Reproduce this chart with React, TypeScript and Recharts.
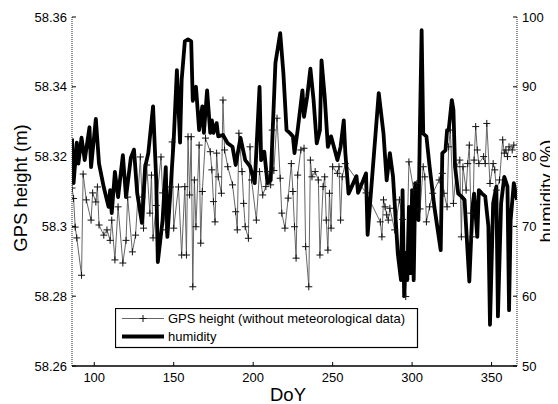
import React from 'react';
import { LineChart, Line, XAxis, YAxis, Legend } from 'recharts';

const dayTicks = [100, 150, 200, 250, 300, 350];
const heightTicks = [58.26, 58.28, 58.3, 58.32, 58.34, 58.36];
const humidityTicks = [50, 60, 70, 80, 90, 100];

const gpsLabel = 'GPS height (without meteorological data)';
const humidityLabel = 'humidity';

// [DoY, GPS height (m)]
const gpsSeries: [number, number][] = [
  [86, 58.311], [87, 58.308], [88, 58.2998], [89, 58.2967], [92, 58.286], [93, 58.315],
  [95, 58.3076], [98, 58.3018], [99, 58.3096], [101, 58.307], [102, 58.3113], [103, 58.3004],
  [106, 58.2975], [108, 58.299], [110, 58.296], [111, 58.3018], [113, 58.2904], [115, 58.3056],
  [118, 58.2895], [120, 58.296], [121, 58.3084], [124, 58.2927], [126, 58.2975], [129, 58.3199],
  [130, 58.3084], [131, 58.2995], [133, 58.3176], [135, 58.3038], [136, 58.3147], [137, 58.2967],
  [139, 58.306], [142, 58.3199], [143, 58.3096], [145, 58.299], [148, 58.3113], [149, 58.3242],
  [150, 58.2995], [153, 58.3113], [155, 58.2918], [157, 58.3114], [158, 58.2918], [159, 58.3257],
  [160, 58.309], [161, 58.3257], [162, 58.2827], [163, 58.3133], [164, 58.2999], [166, 58.3233],
  [167, 58.2952], [168, 58.31], [170, 58.3253], [173, 58.3214], [174, 58.3162], [175, 58.3071],
  [176, 58.3013], [177, 58.321], [178, 58.3142], [180, 58.3095], [181, 58.3362], [182, 58.3219],
  [184, 58.3171], [187, 58.3119], [189, 58.3042], [190, 58.299], [191, 58.3267], [193, 58.3157],
  [194, 58.3066], [195, 58.2999], [197, 58.2966], [198, 58.3228], [199, 58.3133], [202, 58.3018],
  [204, 58.3157], [206, 58.309], [208, 58.3114], [209, 58.3157], [211, 58.3119], [212, 58.3276],
  [213, 58.316], [215, 58.331], [217, 58.3138], [218, 58.3038], [220, 58.2995], [222, 58.3081],
  [224, 58.318], [225, 58.31], [226, 58.2999], [227, 58.2909], [228, 58.3147], [230, 58.3219],
  [232, 58.3224], [233, 58.2942], [235, 58.2827], [236, 58.319], [237, 58.3142], [239, 58.3157],
  [241, 58.3133], [242, 58.2918], [244, 58.3114], [245, 58.3142], [246, 58.3018], [247, 58.2932],
  [248, 58.3095], [249, 58.2995], [250, 58.3171], [253, 58.3152], [254, 58.3171], [255, 58.3018],
  [256, 58.3142], [258, 58.318], [271, 58.3096], [280, 58.3013], [281, 58.297], [282, 58.3076],
  [283, 58.3056], [284, 58.3033], [285, 58.3018], [286, 58.3052], [289, 58.299], [292, 58.3076],
  [294, 58.302], [296, 58.2799], [298, 58.3185], [301, 58.3104], [303, 58.3123], [305, 58.305],
  [307, 58.3171], [308, 58.3142], [309, 58.3013], [311, 58.3056], [313, 58.3095], [317, 58.3133],
  [319, 58.3152], [320, 58.3095], [322, 58.3056], [323, 58.3228], [324, 58.3276], [326, 58.3066],
  [328, 58.3171], [330, 58.319], [331, 58.297], [332, 58.3171], [334, 58.3104], [335, 58.318],
  [336, 58.3233], [337, 58.3038], [338, 58.297], [339, 58.319], [340, 58.3286], [341, 58.3219],
  [342, 58.318], [345, 58.32], [346, 58.318], [347, 58.3295], [349, 58.3123], [351, 58.318],
  [352, 58.3162], [353, 58.3104], [355, 58.3133], [357, 58.3248], [358, 58.321], [359, 58.3219],
  [360, 58.32], [361, 58.3228], [363, 58.3219], [364, 58.3233],
];

// [DoY, humidity (%)]
const humiditySeries: [number, number][] = [
  [86, 82.6], [87, 76.2], [89, 82], [90, 79], [92, 82.7], [94, 79.5], [97, 84.2], [98, 78.5],
  [101, 85.4], [103, 79], [106, 75.6], [109, 72.8], [110, 75.2], [111, 71.9], [113, 77.8],
  [115, 74.2], [118, 80.2], [120, 74.2], [123, 79.8], [125, 81], [127, 74.8], [130, 70.5],
  [132, 78.5], [134, 80.5], [137, 87.2], [139, 76.6], [140, 64.9], [143, 70.9], [145, 78.5],
  [146, 68.5], [148, 75.2], [150, 82.4], [152, 92.4], [154, 82], [155, 91], [157, 96.5],
  [159, 96.8], [161, 96.5], [162, 88], [164, 90], [166, 83.8], [168, 87.2], [169, 83.4],
  [171, 89.5], [173, 83.4], [174, 85.2], [175, 83.4], [177, 84.8], [178, 82.9], [181, 83.1],
  [184, 81.9], [187, 81.4], [189, 78.8], [192, 82.7], [195, 79.5], [198, 78.6], [201, 76.2],
  [204, 90], [205, 79.5], [207, 80.7], [209, 76.2], [211, 76.6], [214, 93.4], [217, 97.7],
  [219, 92], [221, 83.8], [223, 83.4], [225, 82.9], [226, 80.5], [228, 83.8], [231, 89.5],
  [232, 85.7], [234, 88.6], [236, 92.6], [238, 88.1], [240, 81.9], [242, 83.8], [243, 93.8],
  [245, 88.6], [247, 81.4], [249, 82.9], [253, 79.5], [255, 81.4], [257, 85.2], [258, 80.5],
  [260, 74.7], [265, 77.2], [266, 74.8], [271, 77.6], [272, 68.8], [279, 89.1], [282, 83.3],
  [284, 76.6], [286, 80.5], [288, 77.1], [291, 66.1], [293, 62.3], [294, 75.2], [295, 60],
  [296, 66.2], [297, 62.3], [298, 72.8], [299, 63.3], [300, 75.2], [301, 62.3], [302, 76.2],
  [304, 70.9], [305, 85.2], [306, 98.1], [307, 83.3], [309, 82.9], [311, 78.6], [314, 72.8],
  [318, 66.6], [319, 80.5], [321, 80.9], [322, 83.8], [323, 83.8], [325, 88.1], [326, 86.7],
  [327, 78.6], [329, 74.7], [331, 74.3], [333, 73.8], [336, 62.1], [338, 72.8], [339, 74.7],
  [341, 68.5], [342, 75.2], [344, 74.7], [346, 74.3], [348, 70], [349, 55.9], [351, 73.3],
  [353, 75.7], [354, 57.1], [356, 73.3], [358, 77.1], [360, 75.7], [361, 58], [362, 70.9],
  [364, 76.2], [366, 73.8],
];

const gpsMap = new Map(gpsSeries.map(([d, v]) => [d, v]));
const humMap = new Map(humiditySeries.map(([d, v]) => [d, v]));
const allDays = Array.from(new Set([...gpsSeries.map((p) => p[0]), ...humiditySeries.map((p) => p[0])])).sort(
  (a, b) => a - b
);
const chartData = allDays.map((d) => ({
  day: d,
  gps: gpsMap.has(d) ? gpsMap.get(d) : null,
  humidity: humMap.has(d) ? humMap.get(d) : null,
}));

const FONT = '"Liberation Sans", Arial, Helvetica, sans-serif';
const TICK_FS = 13;
const TITLE_FS = 18.5;

const LeftTick = (p: any) => (
  <g>
    <line x1={p.x} y1={p.y} x2={p.x + 4} y2={p.y} stroke="#000" strokeWidth={1} />
    <text x={p.x - 5} y={p.y} dy="0.36em" textAnchor="end" fontSize={TICK_FS} fontFamily={FONT} fill="#000">
      {String(p.payload.value)}
    </text>
  </g>
);

const RightTick = (p: any) => (
  <g>
    <line x1={p.x} y1={p.y} x2={p.x - 4} y2={p.y} stroke="#000" strokeWidth={1} />
    <text x={p.x + 5} y={p.y} dy="0.36em" textAnchor="start" fontSize={TICK_FS} fontFamily={FONT} fill="#000">
      {String(p.payload.value)}
    </text>
  </g>
);

const BottomTick = (p: any) => (
  <g>
    <line x1={p.x} y1={p.y} x2={p.x} y2={p.y - 4} stroke="#000" strokeWidth={1} />
    <text x={p.x} y={p.y + 16} textAnchor="middle" fontSize={TICK_FS} fontFamily={FONT} fill="#000">
      {String(p.payload.value)}
    </text>
  </g>
);

const TopTick = (p: any) => (
  <g>
    <line x1={p.x} y1={p.y} x2={p.x} y2={p.y + 4} stroke="#000" strokeWidth={1} />
  </g>
);

const PlusDot = (props: any) => {
  const { cx, cy, index } = props;
  if (cx == null || cy == null || Number.isNaN(cx) || Number.isNaN(cy)) return <g key={`pd${index}`} />;
  const s = 3.5;
  return (
    <path
      key={`pd${index}`}
      d={`M${cx - s},${cy}H${cx + s}M${cx},${cy - s}V${cy + s}`}
      stroke="#111"
      strokeWidth={1}
      fill="none"
    />
  );
};

const LegendBox = () => (
  <svg width={304} height={41} style={{ display: 'block' }}>
    <rect x={0.5} y={0.5} width={302} height={39} fill="#fff" stroke="#000" strokeWidth={1.2} />
    <line x1={7} y1={10.5} x2={49} y2={10.5} stroke="#555" strokeWidth={0.9} />
    <path d="M24.5,10.5H31.5M28,7V14" stroke="#111" strokeWidth={1} />
    <text x={53} y={14.8} fontSize={13} fontFamily={FONT} fill="#000">
      {gpsLabel}
    </text>
    <line x1={7} y1={28.5} x2={49} y2={28.5} stroke="#000" strokeWidth={3.8} />
    <text x={53} y={33} fontSize={13} fontFamily={FONT} fill="#000">
      {humidityLabel}
    </text>
  </svg>
);

export default function App() {
  return (
    <LineChart width={550} height={396} data={chartData} margin={{ top: 9, right: 0, bottom: 0, left: 0 }}>
      <XAxis
        dataKey="day"
        type="number"
        domain={[86, 366]}
        ticks={dayTicks}
        allowDataOverflow
        height={38}
        tickSize={0}
        tickMargin={0}
        tickLine={false}
        tick={(p: any) => <BottomTick {...p} />}
        axisLine={{ stroke: '#000', strokeWidth: 1.4 }}
        label={() => (
          <text x={280} y={393} textAnchor="middle" fontSize={TITLE_FS} fontFamily={FONT} fill="#000">
            DoY
          </text>
        )}
      />
      <XAxis
        xAxisId="top"
        orientation="top"
        dataKey="day"
        type="number"
        domain={[86, 366]}
        ticks={dayTicks}
        allowDataOverflow
        height={0}
        tickSize={0}
        tickMargin={0}
        tickLine={false}
        tick={(p: any) => <TopTick {...p} />}
        axisLine={{ stroke: '#000', strokeWidth: 1.4 }}
      />
      <YAxis
        yAxisId="left"
        orientation="left"
        type="number"
        domain={[58.26, 58.36]}
        ticks={heightTicks}
        allowDataOverflow
        width={64}
        tickSize={0}
        tickMargin={0}
        tickLine={false}
        tick={(p: any) => <LeftTick {...p} />}
        axisLine={{ stroke: '#222', strokeWidth: 1, strokeDasharray: '1 1' }}
        label={() => (
          <text
            x={19}
            y={180}
            transform="rotate(-90 19 180)"
            textAnchor="middle"
            fontSize={TITLE_FS}
            fontFamily={FONT}
            fill="#000"
          >
            GPS height (m)
          </text>
        )}
      />
      <YAxis
        yAxisId="right"
        orientation="right"
        type="number"
        domain={[50, 100]}
        ticks={humidityTicks}
        allowDataOverflow
        width={41}
        tickSize={0}
        tickMargin={0}
        tickLine={false}
        tick={(p: any) => <RightTick {...p} />}
        axisLine={{ stroke: '#222', strokeWidth: 1, strokeDasharray: '1 1' }}
        label={() => (
          <text
            x={545}
            y={183}
            transform="rotate(-90 545 183)"
            textAnchor="middle"
            fontSize={TITLE_FS}
            fontFamily={FONT}
            fill="#000"
          >
            humidity (%)
          </text>
        )}
      />
      <Legend
        layout="vertical"
        align="center"
        verticalAlign="middle"
        wrapperStyle={{ left: 107, top: 300, width: 304, height: 41 }}
        content={() => <LegendBox />}
      />
      <Line
        yAxisId="left"
        dataKey="gps"
        name={gpsLabel}
        type="linear"
        stroke="#555"
        strokeWidth={0.9}
        dot={(p: any) => <PlusDot {...p} />}
        activeDot={false}
        connectNulls
        isAnimationActive={false}
      />
      <Line
        yAxisId="right"
        dataKey="humidity"
        name={humidityLabel}
        type="linear"
        stroke="#000"
        strokeWidth={3.8}
        strokeLinejoin="round"
        dot={false}
        activeDot={false}
        connectNulls
        isAnimationActive={false}
      />
    </LineChart>
  );
}
